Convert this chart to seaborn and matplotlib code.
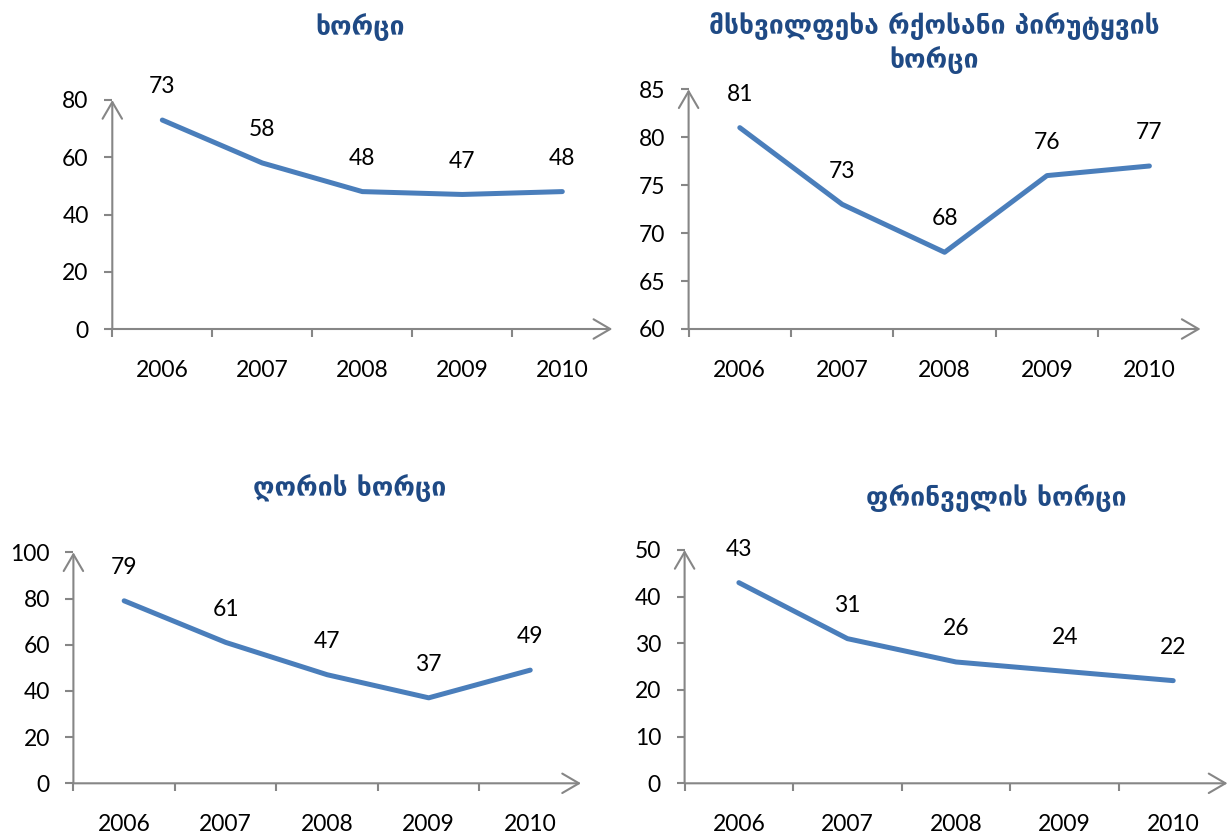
import numpy as np
import pandas as pd
import matplotlib
matplotlib.use("Agg")
import matplotlib.pyplot as plt
import seaborn as sns

# Years on the category axis
years = [2006, 2007, 2008, 2009, 2010]

# Panel titles
title_meat = "ხორცი"
title_cattle = "მსხვილფეხა რქოსანი პირუტყვის\nხორცი"
title_pork = "ღორის ხორცი"
title_poultry = "ფრინველის ხორცი"

# Series values
meat = [73, 58, 48, 47, 48]
cattle = [81, 73, 68, 76, 77]
pork = [79, 61, 47, 37, 49]
poultry = [43, 31, 26, 24, 22]

# Y-axis tick values
ticks_meat = [0, 20, 40, 60, 80]
ticks_cattle = [60, 65, 70, 75, 80, 85]
ticks_pork = [0, 20, 40, 60, 80, 100]
ticks_poultry = [0, 10, 20, 30, 40, 50]

LINE = "#4A7EBB"
AXIS = "#868686"
TITLE = "#1F4A85"
FS = 16.5
W, H = 1229, 839

sns.set_theme(style="white")
plt.rcParams["font.family"] = ["Lato", "DejaVu Sans"]

fig = plt.figure(figsize=(W / 100, H / 100), dpi=100)


def px_rect(left, right, top, bottom):
    return [left / W, 1 - bottom / H, (right - left) / W, (bottom - top) / H]


def panel(rect, values, yticks, title, title_xy):
    ax = fig.add_axes(rect)
    df = pd.DataFrame({"year": years, "value": values})
    sns.lineplot(data=df, x="year", y="value", ax=ax, color=LINE,
                 linewidth=3.6, solid_joinstyle="round", solid_capstyle="round")
    ax.set_xlim(years[0] - 0.5, years[-1] + 0.5)
    ax.set_ylim(yticks[0], yticks[-1])
    ax.set_yticks(yticks)
    ax.set_xticks(years, labels=[str(y) for y in years])
    ax.set_xticks([y - 0.5 for y in years], minor=True)
    ax.set_xlabel("")
    ax.set_ylabel("")
    for s in ax.spines.values():
        s.set_visible(False)
    ax.tick_params(axis="x", which="major", length=0, pad=22, labelsize=FS,
                   labelcolor="black")
    ax.tick_params(axis="x", which="minor", length=6, width=1.5, color=AXIS,
                   direction="out", bottom=True)
    ax.tick_params(axis="y", length=6, width=1.5, color=AXIS, direction="out",
                   left=True, pad=11, labelsize=FS, labelcolor="black")
    arrow = dict(arrowstyle="->,head_length=12,head_width=7", mutation_scale=1,
                 color=AXIS, lw=1.5, shrinkA=0, shrinkB=0)
    ax.annotate("", xy=(1, 0), xytext=(0, 0), xycoords="axes fraction",
                arrowprops=arrow, annotation_clip=False)
    ax.annotate("", xy=(0, 1), xytext=(0, 0), xycoords="axes fraction",
                arrowprops=arrow, annotation_clip=False)
    for x, v in zip(years, values):
        ax.annotate(str(v), (x, v), xytext=(0, 24), textcoords="offset points",
                    ha="center", va="center", fontsize=FS, color="black",
                    annotation_clip=False)
    fig.text(title_xy[0] / W, 1 - title_xy[1] / H, title, ha="center",
             va="center", color=TITLE, fontsize=19, fontweight="bold",
             family=["DejaVu Sans"], linespacing=1.25)
    return ax


panel(px_rect(112.3, 612.3, 100, 329), meat, ticks_meat, title_meat, (360, 27))
panel(px_rect(688.6, 1200.6, 89.3, 329), cattle, ticks_cattle, title_cattle, (934, 43))
panel(px_rect(73.4, 581, 552.3, 783.3), pork, ticks_pork, title_pork, (350, 488))
panel(px_rect(684.6, 1227.5, 550, 783.3), poultry, ticks_poultry, title_poultry, (996, 498))

fig.savefig("out.png", dpi=100)
